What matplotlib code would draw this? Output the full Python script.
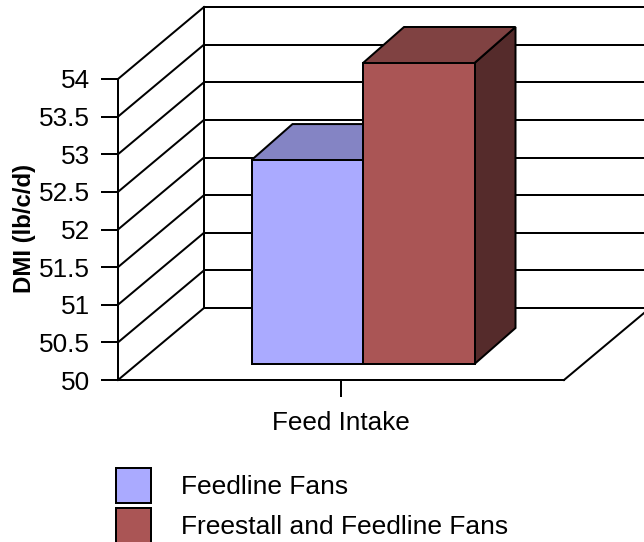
import numpy as np
import matplotlib
matplotlib.use("Agg")
import matplotlib.pyplot as plt
from matplotlib.patches import Patch, Polygon
from matplotlib.transforms import Affine2D

plt.rcParams['font.family'] = ['Liberation Sans', 'DejaVu Sans']

category = 'Feed Intake'
series_names = ['Feedline Fans', 'Freestall and Feedline Fans']
series_values = [52.71, 54.0]
front_colors = ['#AAAAFF', '#AA5555']
top_colors = ['#8484C4', '#804242']
side_colors = ['#55557F', '#552B2B']
y_ticks = np.arange(50, 54.5, 0.5)
y_labels = ['50', '50.5', '51', '51.5', '52', '52.5', '53', '53.5', '54']

# everything oblique is given as a pixel shift away from the front plane
wall_depth = (86, 72)
bar_front = (22, 16)
bar_back = (63, 52)
bar_width = 0.25
lw = 1.44
font_size = 18.8

fig = plt.figure(figsize=(6.44, 5.42), dpi=100)
ax = fig.add_axes([118/644, (542-380)/542, 446/644, 301/542])
ax.set_xlim(0, 1)
ax.set_ylim(50, 54)

for s in ['top', 'right']:
    ax.spines[s].set_visible(False)
for s in ['left', 'bottom']:
    ax.spines[s].set_linewidth(lw)
ax.patch.set_visible(False)


def shifted(dx, dy):
    return ax.transData + Affine2D().translate(dx, dy)


# walls
back = shifted(*wall_depth)
for v in y_ticks:
    ax.plot([0, 1], [v, v], color='k', lw=lw, transform=back, clip_on=False, zorder=1)
    x0, y0 = ax.transData.transform((0, v))
    ax.plot([x0, x0 + wall_depth[0]], [y0, y0 + wall_depth[1]], color='k', lw=lw,
            transform=None, clip_on=False, zorder=1)
ax.plot([0, 0], [50, 54], color='k', lw=lw, transform=back, clip_on=False, zorder=1)
x1, y1 = ax.transData.transform((1, 50))
ax.plot([x1, x1 + wall_depth[0]], [y1, y1 + wall_depth[1]], color='k', lw=lw,
        transform=None, clip_on=False, zorder=1)

# bars, left one first so the right one covers it
for i, v in enumerate(series_values):
    left = 0.25 + i * bar_width
    right = left + bar_width
    fx0, fy0 = shifted(*bar_front).transform((left, v))
    fx1, fy1 = shifted(*bar_front).transform((right, v))
    bx0, by0 = shifted(*bar_back).transform((left, v))
    bx1, by1 = shifted(*bar_back).transform((right, v))
    _, fb = shifted(*bar_front).transform((right, 50))
    _, bb = shifted(*bar_back).transform((right, 50))
    z = 3 + i
    ax.add_patch(Polygon([(fx1, fy1), (bx1, by1), (bx1, bb), (fx1, fb)], closed=True,
                         facecolor=side_colors[i], edgecolor='k', lw=lw,
                         transform=None, clip_on=False, zorder=z))
    ax.add_patch(Polygon([(fx0, fy0), (bx0, by0), (bx1, by1), (fx1, fy1)], closed=True,
                         facecolor=top_colors[i], edgecolor='k', lw=lw,
                         transform=None, clip_on=False, zorder=z))
    ax.bar(left, v - 50, width=bar_width, bottom=50, align='edge', color=front_colors[i],
           edgecolor='k', linewidth=lw, transform=shifted(*bar_front), clip_on=False, zorder=z)

ax.set_xlim(0, 1)
ax.set_ylim(50, 54)

ax.set_yticks(y_ticks)
ax.set_yticklabels(y_labels)
ax.set_xticks([0.5])
ax.set_xticklabels([category])
ax.tick_params(axis='y', length=12.2, width=lw, labelsize=font_size, pad=8, color='k')
ax.tick_params(axis='x', length=12.2, width=lw, labelsize=font_size, pad=10, color='k')

ax.set_ylabel('DMI (lb/c/d)', fontsize=17.3, fontweight='bold')
ax.yaxis.set_label_coords((36 - 118) / 446, (380 - 228) / 301)

handles = [Patch(facecolor=c, edgecolor='k', linewidth=lw) for c in front_colors]
ax.legend(handles, series_names, loc='lower left', frameon=False, fontsize=19,
          bbox_to_anchor=(116/644, -1/542), bbox_transform=fig.transFigure, borderpad=0,
          borderaxespad=0, handlelength=1.31, handleheight=1.64, handletextpad=1.14,
          labelspacing=0.22)

fig.savefig('out.png', dpi=100)
